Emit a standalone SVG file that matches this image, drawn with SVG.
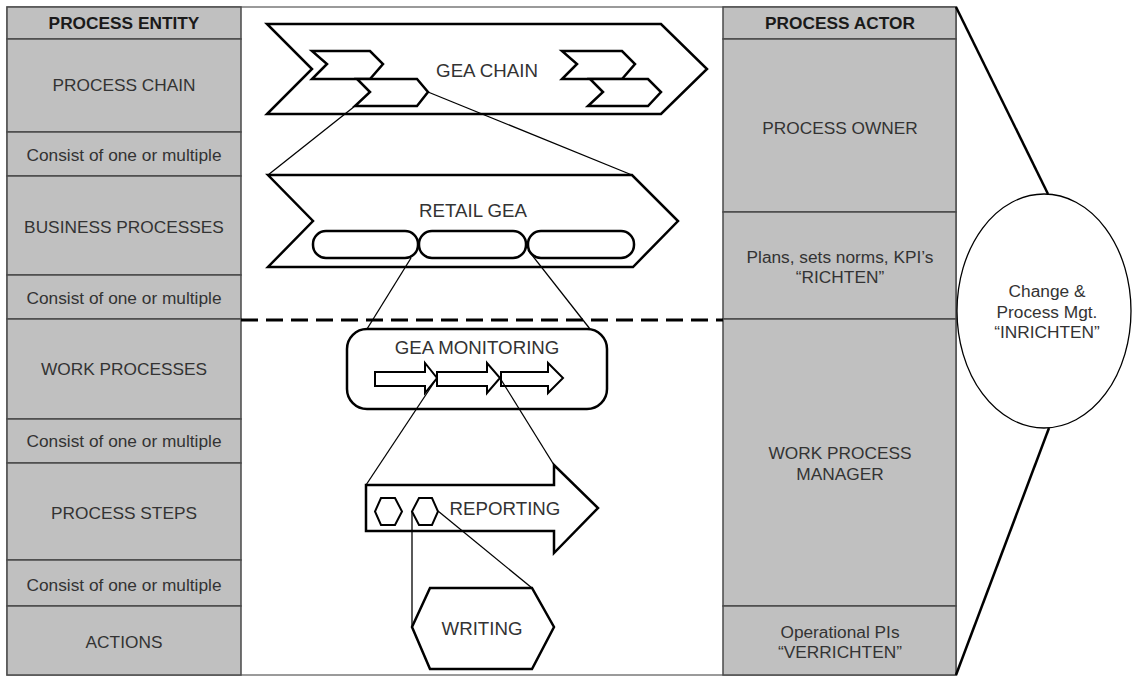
<svg xmlns="http://www.w3.org/2000/svg" width="1135" height="677" viewBox="0 0 1135 677">
<style>
.cell{fill:#c0c0c0;stroke:#4a4a4a;stroke-width:1.5}
.t{font-family:"Liberation Sans",Arial,sans-serif;font-size:17.3px;fill:#333;text-anchor:middle;dominant-baseline:central}
.b{font-weight:bold;fill:#1a1a1a}
.m{font-size:18.7px}
.sh{fill:#fff;stroke:#000;stroke-width:2.5;stroke-linejoin:miter}
.sh2{fill:#fff;stroke:#000;stroke-width:2}
.c{stroke:#000;stroke-width:1.3;fill:none}
</style>
<rect x="0" y="0" width="1135" height="677" fill="#fff"/>
<rect x="7" y="7" width="949" height="668" fill="#fff" stroke="#7a7a7a" stroke-width="1.5"/>

<g id="left-column">
<g id="process-entity"><rect class="cell" x="7" y="7" width="234" height="32"/><text class="t b" x="124" y="23">PROCESS ENTITY</text></g>
<g id="process-chain"><rect class="cell" x="7" y="39" width="234" height="93"/><text class="t" x="124" y="85">PROCESS CHAIN</text></g>
<g id="consist-1"><rect class="cell" x="7" y="132" width="234" height="44"/><text class="t" x="124" y="155">Consist of one or multiple</text></g>
<g id="business-processes"><rect class="cell" x="7" y="176" width="234" height="99"/><text class="t" x="124" y="227">BUSINESS PROCESSES</text></g>
<g id="consist-2"><rect class="cell" x="7" y="275" width="234" height="44"/><text class="t" x="124" y="298">Consist of one or multiple</text></g>
<g id="work-processes"><rect class="cell" x="7" y="319" width="234" height="100"/><text class="t" x="124" y="369">WORK PROCESSES</text></g>
<g id="consist-3"><rect class="cell" x="7" y="419" width="234" height="44"/><text class="t" x="124" y="441">Consist of one or multiple</text></g>
<g id="process-steps"><rect class="cell" x="7" y="463" width="234" height="97"/><text class="t" x="124" y="513">PROCESS STEPS</text></g>
<g id="consist-4"><rect class="cell" x="7" y="560" width="234" height="46"/><text class="t" x="124" y="585">Consist of one or multiple</text></g>
<g id="actions"><rect class="cell" x="7" y="606" width="234" height="69"/><text class="t" x="124" y="642">ACTIONS</text></g>
</g>

<g id="right-column">
<g id="process-actor"><rect class="cell" x="723" y="7" width="233" height="32"/><text class="t b" x="840" y="23">PROCESS ACTOR</text></g>
<g id="process-owner"><rect class="cell" x="723" y="39" width="233" height="173"/><text class="t" x="840" y="128">PROCESS OWNER</text></g>
<g id="richten"><rect class="cell" x="723" y="212" width="233" height="107"/><text class="t" x="840" y="257">Plans, sets norms, KPI’s</text><text class="t" x="840" y="277">“RICHTEN”</text></g>
<g id="work-process-manager"><rect class="cell" x="723" y="319" width="233" height="287"/><text class="t" x="840" y="453">WORK PROCESS</text><text class="t" x="840" y="474">MANAGER</text></g>
<g id="verrichten"><rect class="cell" x="723" y="606" width="233" height="69"/><text class="t" x="840" y="632">Operational PIs</text><text class="t" x="840" y="652">“VERRICHTEN”</text></g>
</g>

<g id="inrichten">
<line x1="956" y1="7" x2="1048" y2="194" stroke="#000" stroke-width="2.5"/>
<line x1="1049" y1="428" x2="956" y2="675" stroke="#000" stroke-width="2.5"/>
<ellipse cx="1044" cy="311" rx="87" ry="117" fill="#fff" stroke="#000" stroke-width="1.3"/>
<text class="t" x="1047" y="291">Change &amp;</text>
<text class="t" x="1047" y="312">Process Mgt.</text>
<text class="t" x="1047" y="332">“INRICHTEN”</text>
</g>

<line id="divider" x1="241" y1="320" x2="723" y2="320" stroke="#000" stroke-width="3" stroke-dasharray="17 8"/>

<g id="gea-chain">
<polygon class="sh" points="267,24 661,24 707,69 661,114 267,114 312,69"/>
<polygon class="sh" points="312,51 370,51 383,64 370,79 312,79 327,64"/>
<polygon class="sh" points="357,79 417,79 428,92 417,106 355,106 370,92"/>
<polygon class="sh" points="562,51 622,51 635,64 622,79 562,79 577,64"/>
<polygon class="sh" points="590,79 648,79 661,92 648,106 588,106 603,92"/>
<text class="t m" x="487" y="70">GEA CHAIN</text>
</g>

<g id="retail-gea">
<polygon class="sh" points="268,175 632,175 678,221 633,267 268,267 313,221"/>
<rect class="sh" x="313" y="231" width="105" height="27" rx="13"/>
<rect class="sh" x="419" y="231" width="107" height="27" rx="13"/>
<rect class="sh" x="528" y="231" width="106" height="27" rx="13"/>
<text class="t m" x="473" y="210">RETAIL GEA</text>
</g>

<g id="gea-monitoring">
<rect class="sh" x="347" y="329" width="260" height="80" rx="20"/>
<polygon class="sh2" points="375,372 425,372 425,363 437,378 425,393 425,386 375,386"/>
<polygon class="sh2" points="437,372 487,372 487,363 500,378 487,393 487,386 437,386"/>
<polygon class="sh2" points="501,372 548,372 548,363 563,378 548,393 548,386 501,386"/>
<text class="t m" x="477" y="347">GEA MONITORING</text>
</g>

<g id="reporting">
<polygon class="sh" points="366,485 554,485 554,465 598,508 554,553 554,531 366,531"/>
<polygon class="sh2" points="381,498 395,498 402,511.5 395,525 381,525 375,511.5"/>
<polygon class="sh2" points="419,498 432,498 438,511.5 432,525 419,525 412,511.5"/>
<text class="t m" x="505" y="508">REPORTING</text>
</g>

<g id="writing">
<polygon class="sh" points="430,588 532,588 554,627 532,669 430,669 412,627"/>
<text class="t m" x="482" y="628">WRITING</text>
</g>

<g id="connectors">
<line class="c" x1="355" y1="106" x2="268" y2="175"/>
<line class="c" x1="428" y1="92" x2="632" y2="175"/>
<line class="c" x1="411" y1="258" x2="367" y2="329"/>
<line class="c" x1="528" y1="250" x2="590" y2="329"/>
<line class="c" x1="437" y1="378" x2="366" y2="485"/>
<line class="c" x1="500" y1="378" x2="554" y2="465"/>
<line class="c" x1="412" y1="511" x2="412" y2="627"/>
<line class="c" x1="438" y1="511" x2="532" y2="588"/>
</g>
</svg>
